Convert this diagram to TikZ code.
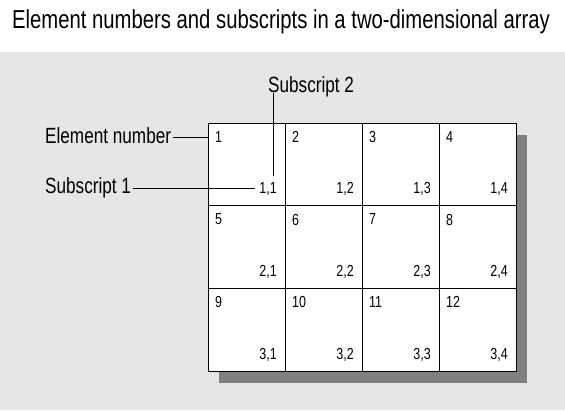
\documentclass[tikz,border=0pt]{standalone}
\usepackage{fontspec}
\setmainfont[FakeStretch=0.78]{Liberation Sans}
\usetikzlibrary{positioning, calc}
\definecolor{panelgray}{RGB}{230, 230, 230}
\definecolor{shadowgray}{RGB}{128, 128, 128}

\begin{document}
\begin{tikzpicture}[x=1pt, y=-1pt,
    cellbox/.style={draw=black, line width=1pt, fill=white, minimum width=77pt,
      minimum height=82.67pt, inner sep=0pt, outer sep=0pt},
    elemnum/.style={font=\fontsize{16}{16}\selectfont, inner sep=0pt, anchor=north west},
    subnum/.style={font=\fontsize{16}{16}\selectfont, inner sep=0pt, anchor=base east},
    lbl/.style={font=\fontsize{22}{22}\selectfont, inner sep=0pt},
    leader/.style={line width=1pt}]
  \useasboundingbox (0,0) rectangle (565,410);
  % Title
  \node[font=\fontsize{26}{26}\selectfont, inner sep=0pt, anchor=base] (title) at (281,28)
    {Element numbers and subscripts in a two-dimensional array};
  % Panel
  \fill[panelgray] (0,52) rectangle (565,410);
  % Shadow
  \fill[shadowgray] (219,135) rectangle (527,383);
  % Cells
  \foreach \r in {1,2,3}{
    \foreach \c in {1,...,4}{
      \pgfmathtruncatemacro{\n}{(\r-1)*4+\c}
      \node[cellbox] (c-\r-\c) at ({208+(\c-0.5)*77}, {123+(\r-0.5)*82.67}) {};
      \node[elemnum] (e-\r-\c) at ($(c-\r-\c.north west)+(7,8)$) {\n};
      \node[subnum] (s-\r-\c) at ($(c-\r-\c.south east)+(-8,-12)$) {\r,\c};
    }
  }
  % Labels
  \node[lbl, anchor=base west] (elemlbl) at (45,143) {Element number};
  \node[lbl, anchor=base west] (sub1lbl) at (45,193) {Subscript 1};
  \node[lbl, anchor=base west] (sub2lbl) at (268,92) {Subscript 2};
  \coordinate (elemend) at ($(elemlbl.base east)+(2,-6)$);
  \coordinate (sub1end) at ($(sub1lbl.base east)+(2,-5)$);
  \coordinate (sub2end) at ($(sub2lbl.base west)+(5,1)$);
  \draw[leader] (elemend) -- (elemend -| c-1-1.west);
  \draw[leader] (sub1end) -- ($(sub1end -| s-1-1.west)+(-4,0)$);
  \draw[leader] (sub2end) -- ($(sub2end |- s-1-1.north)+(0,-6)$);
\end{tikzpicture}
\end{document}
